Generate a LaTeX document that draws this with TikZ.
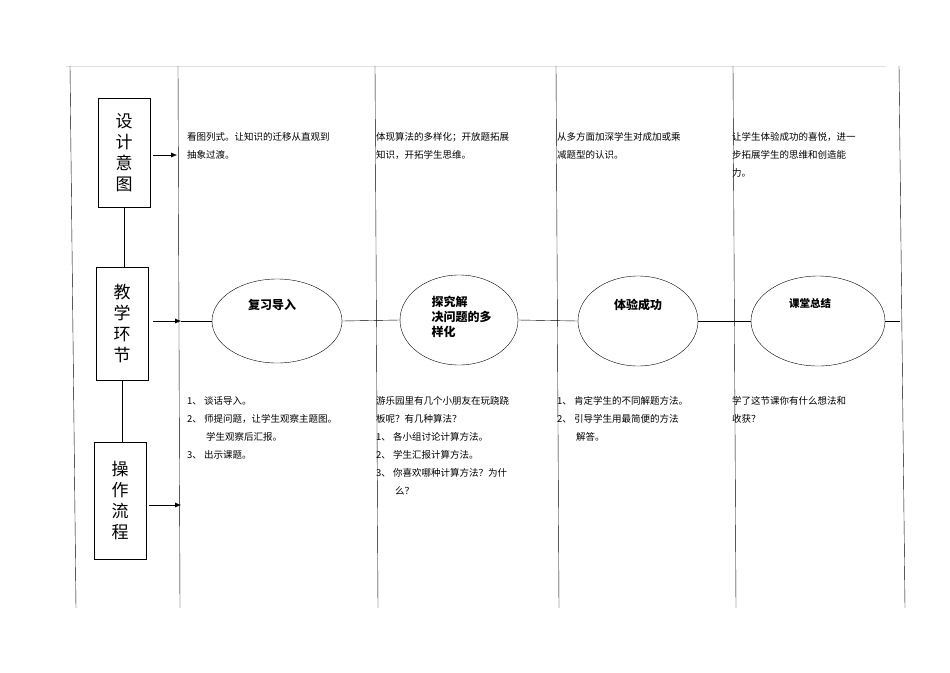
\documentclass[tikz,border=0pt]{standalone}
\usepackage{fontspec}
\usetikzlibrary{shapes.geometric,arrows.meta}
\setmainfont{Noto Sans CJK SC}
\begin{document}
\begin{tikzpicture}[x=1pt,y=-1pt,
  lbox/.style={draw,minimum width=52pt,align=center,font=\fontsize{17}{21}\selectfont,inner sep=2pt},
  ell/.style={draw,ellipse,inner sep=0pt},
  txt/.style={anchor=north west,align=left,font=\fontsize{9.5}{18}\selectfont,inner sep=0pt},
  etxt/.style={font=\bfseries\fontsize{12}{15}\selectfont,align=left},
  arr/.style={-{Latex[length=6pt,width=5pt]}}]
\useasboundingbox (0,0) rectangle (950,672);
\draw[gray!25] (66,66) -- (886,66);
\foreach \a/\b in {70/76,178/180,375/378,556/559,733/736,899/905}
  \draw (\a,66) -- (\b,608);
% left boxes
\node[lbox,minimum height=109pt] (b1) at (124,153) {设\\计\\意\\图};
\node[lbox,minimum height=113pt] (b2) at (122,324) {教\\学\\环\\节};
\node[lbox,minimum height=117pt] (b3) at (120,501) {操\\作\\流\\程};
\draw (b1.south) -- (b1.south|-b2.north);
\draw (b2.south) -- (b2.south|-b3.north);
\coordinate (s1) at (153,155);
\coordinate (s2) at (153,321);
\coordinate (s3) at (149,505);
\coordinate (a1) at (177,155);
\coordinate (a2) at (181,321);
\coordinate (a3) at (181,505);
\draw[arr] (s1) -- (a1);
\draw[arr] (s2) -- (a2);
\draw[arr] (s3) -- (a3);
% ellipses
\node[ell,minimum width=130pt,minimum height=84pt] (e1) at (277,321) {};
\node[ell,minimum width=118pt,minimum height=90pt] (e2) at (459,320) {};
\node[ell,minimum width=120pt,minimum height=90pt] (e3) at (638,321) {};
\node[ell,minimum width=134pt,minimum height=90pt] (e4) at (818,321) {};
\coordinate (hend) at (900,321);
\draw (a2) -- (e1.west);
\draw (e1.east) -- (e2.west);
\draw (e2.east) -- (e3.west);
\draw (e3.east) -- (e4.west);
\draw (e4.east) -- (hend);
\node[etxt] at (272,305) {复习导入};
\node[etxt,anchor=north west] at (428,293) {探究解\\决问题的多\\样化};
\node[etxt] at (638,305) {体验成功};
\node[etxt,font=\bfseries\fontsize{10.5}{13}\selectfont] at (810,303) {课堂总结};
% top texts
\node[txt] (t1) at (187,132) {看图列式。让知识的迁移从直观到\\抽象过渡。};
\node[txt] (t2) at (376,132) {体现算法的多样化；开放题拓展\\知识，开拓学生思维。};
\node[txt] (t3) at (557,132) {从多方面加深学生对成加或乘\\减题型的认识。};
\node[txt] (t4) at (732,132) {让学生体验成功的喜悦，进一\\步拓展学生的思维和创造能\\力。};
% bottom texts
\node[txt] (u1) at (187,396) {1、 谈话导入。\\2、 师提问题，让学生观察主题图。\\\hspace*{19pt}学生观察后汇报。\\3、 出示课题。};
\node[txt] (u2) at (376,396) {游乐园里有几个小朋友在玩跷跷\\板呢？有几种算法？\\1、 各小组讨论计算方法。\\2、 学生汇报计算方法。\\3、 你喜欢哪种计算方法？为什\\\hspace*{19pt}么？};
\node[txt] (u3) at (557,396) {1、 肯定学生的不同解题方法。\\2、 引导学生用最简便的方法\\\hspace*{19pt}解答。};
\node[txt] (u4) at (732,396) {学了这节课你有什么想法和\\收获？};
\end{tikzpicture}
\end{document}
